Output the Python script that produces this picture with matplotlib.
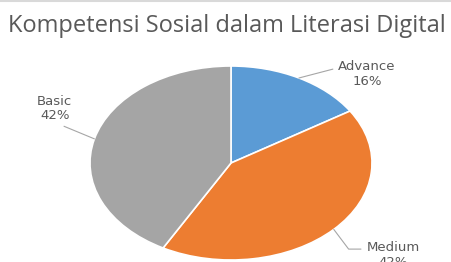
import numpy as np
import matplotlib.pyplot as plt

labels = ["Advance", "Medium", "Basic"]
values = [16, 42, 42]
colors = ["#5B9BD5", "#ED7D31", "#A5A5A5"]
# label text positions (data coords of the pie axes, pie radius = 1)
label_pos = [(0.965, 0.92), (1.15, -0.95), (-1.25, 0.56)]
# where the leader line leaves the label box, and its shape
rel_pos = [(0.0, 0.72), (0.0, 0.72), (0.5, 0.0)]
conn = ["arc3", "angle,angleA=0,angleB=127,rad=0", "arc3"]

W, H = 451, 262
fig = plt.figure(figsize=(W / 100, H / 100), dpi=100)
plt.rcParams['font.family'] = ['Open Sans', 'DejaVu Sans']

# pie axes: center (231,163) px, rx=141, ry=97
cx, cy, rx, ry = 231, 163, 141, 97
ax = fig.add_axes([(cx - rx) / W, 1 - (cy + ry) / H, 2 * rx / W, 2 * ry / H])
wedges, _ = ax.pie(values, colors=colors, startangle=90, counterclock=False,
                   radius=1, wedgeprops=dict(edgecolor="white", linewidth=1.2))
ax.set_xlim(-1, 1)
ax.set_ylim(-1, 1)
ax.set_aspect("auto")
ax.axis("off")

start = 90
for lab, v, (tx, ty), rp, cs in zip(labels, values, label_pos, rel_pos, conn):
    mid = np.deg2rad(start - v / 100 * 360 / 2)
    start -= v / 100 * 360
    ex, ey = np.cos(mid), np.sin(mid)
    ax.annotate(f"{lab}\n{v}%", xy=(ex, ey), xytext=(tx, ty),
                ha="center", va="center", fontsize=9.5, color="#595959",
                family=["DejaVu Sans"], linespacing=1.15, annotation_clip=False,
                arrowprops=dict(arrowstyle="-", color="#A6A6A6", lw=0.8,
                                shrinkA=2, shrinkB=0, relpos=rp,
                                connectionstyle=cs))

fig.text(8 / W, 1 - 32 / H, "Kompetensi Sosial dalam Literasi Digital",
         fontsize=17, color="#595959", ha="left", va="baseline")
fig.add_artist(plt.Line2D([0, 1], [1 - 1 / H, 1 - 1 / H], color="#D9D9D9", lw=1.5))

fig.savefig("out.png", dpi=100)
